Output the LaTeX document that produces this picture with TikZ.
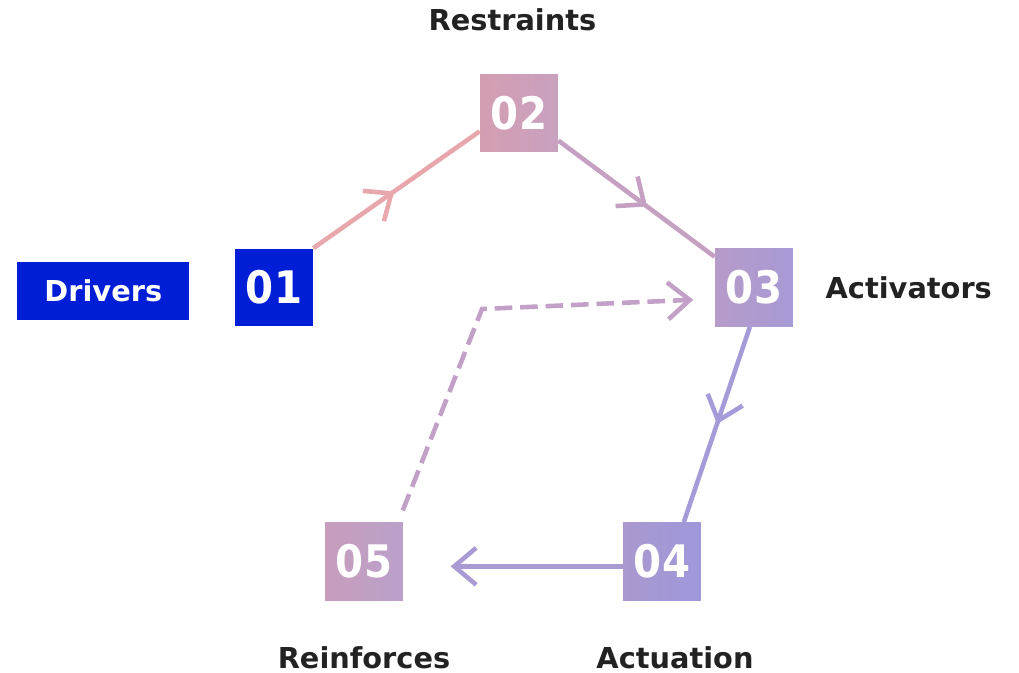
\documentclass[tikz,border=0pt]{standalone}
\usepackage{fontspec}
\setmainfont{DejaVu Sans}
\newfontfamily\numfont{DejaVu Sans Condensed}
\usepackage{xcolor}
\usepackage{tikz}
\usetikzlibrary{arrows.meta, positioning, decorations.markings}

\definecolor{ink}{HTML}{222222}
\definecolor{driverblue}{HTML}{001ED6}
\definecolor{c2a}{HTML}{D49EB1}
\definecolor{c2b}{HTML}{C9A1C0}
\definecolor{c3a}{HTML}{B69BC9}
\definecolor{c3b}{HTML}{A79AD5}
\definecolor{c4a}{HTML}{AA98CF}
\definecolor{c4b}{HTML}{9E98DA}
\definecolor{c5a}{HTML}{C79DBC}
\definecolor{c5b}{HTML}{BAA0CA}
\definecolor{e1}{HTML}{E7A7AC}
\definecolor{e2}{HTML}{C6A0C3}
\definecolor{e3}{HTML}{A59BD8}
\definecolor{e4}{HTML}{A99AD3}
\definecolor{e5}{HTML}{C2A0C7}

\begin{document}
\begin{tikzpicture}[x=0.02cm, y=-0.02cm,
        box/.style={minimum size=1.56cm, inner sep=0pt, text=white, font=\numfont\bfseries\fontsize{25.5}{25.5}\selectfont},
        lbl/.style={inner sep=0pt, text=ink, font=\bfseries\fontsize{16.4}{16.4}\selectfont},
        link/.style={line width=2.6pt},
        chevron/.style={decoration={markings, mark=at position #1 with {\draw[solid, line join=miter] (-12.5pt,10.5pt) -- (0,0) -- (-12.5pt,-10.5pt);}}, postaction={decorate}}]
        \useasboundingbox (0,0) rectangle (1019,673);
        \node[box, fill=driverblue] (n1) at (274,287.5) {01};
        \node[box, left color=c2a, right color=c2b] (n2) at (519,113) {02};
        \node[box, left color=c3a, right color=c3b] (n3) at (754,287.5) {03};
        \node[box, left color=c4a, right color=c4b] (n4) at (662,561.5) {04};
        \node[box, left color=c5a, right color=c5b] (n5) at (364,561.5) {05};
        \node[box, fill=driverblue, minimum width=3.44cm, minimum height=1.16cm, font=\bfseries\fontsize{16.4}{16.4}\selectfont] (drivers) [left=0.9cm of n1, yshift=-0.07cm] {Drivers};
        \node[lbl, above=0.84cm of n2, xshift=-0.13cm] (restraints) {Restraints};
        \node[lbl, right=0.64cm of n3] (activators) {Activators};
        \node[lbl, below=0.9cm of n4, xshift=0.26cm] (actuation) {Actuation};
        \node[lbl, below=0.9cm of n5] (reinforces) {Reinforces};
        \draw[link, e1, chevron=0.47] (n1.north east) -- (n2.-155);
        \draw[link, e2, chevron=0.55] (n2.-35) -- (n3.142);
        \draw[link, e3, chevron=0.48] (n3.-96) -- (n4.61);
        \draw[link, e4, shorten >=1.02cm] (n4.187) -- (n5.-7);
        \path[link, e4, chevron=0.768] (n4.187) -- (n5.-7); % head stops short of 05
        % feedback back into the loop
        \coordinate (bend) at (482,309);
        \draw[link, e5, dash pattern=on 10pt off 4.5pt, shorten <=0.25cm, shorten >=0.5cm] (n5.49) -- (bend) -- (n3.196);
        \path[link, e5, chevron=0.946] (n5.49) -- (bend) -- (n3.196);
    \end{tikzpicture}
\end{document}
